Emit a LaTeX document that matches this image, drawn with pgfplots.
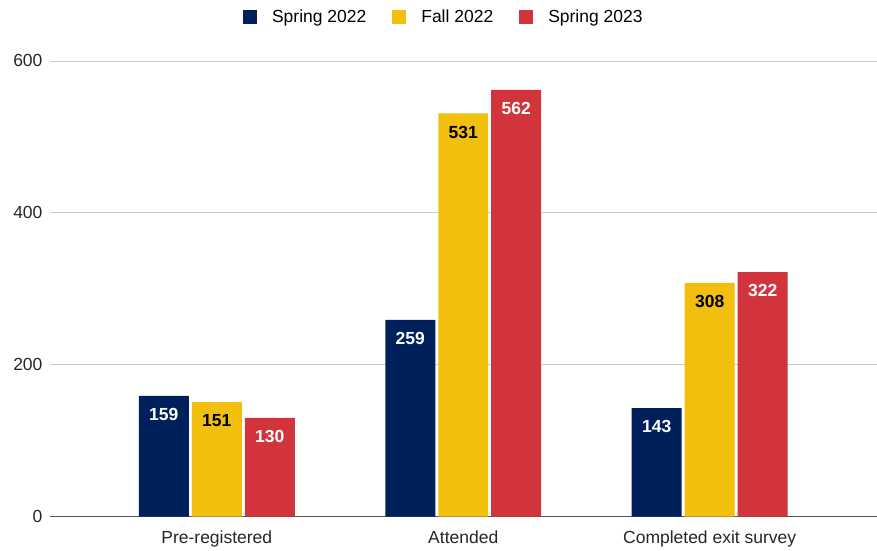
\documentclass[border=0pt]{standalone}
\usepackage{fontspec}
\setmainfont{Liberation Sans}
\usepackage{pgfplots}
\pgfplotsset{compat=1.18}
\usetikzlibrary{calc}
\definecolor{cnavy}{HTML}{00205B}
\definecolor{cyellow}{HTML}{F2BF0F}
\definecolor{cred}{HTML}{D1343B}
\definecolor{cgrid}{HTML}{CCCCCC}
\definecolor{caxis}{HTML}{555555}
\begin{document}
\begin{tikzpicture}
\begin{axis}[
  name=ax,
  scale only axis,
  width=827pt, height=456pt,
  xmin=-0.677, xmax=2.677,
  ymin=0, ymax=600,
  ybar=3pt, bar width=50pt,
  xtick={0,1,2},
  xticklabels={Pre-registered, Attended, Completed exit survey},
  ytick={0,200,400,600},
  ymajorgrids, grid style={cgrid, line width=0.8pt},
  axis lines*=left,
  y axis line style={draw=none},
  x axis line style={draw=caxis, line width=1pt},
  major tick length=0pt,
  tick style={draw=none},
  /pgf/number format/assume math mode=true,
  ticklabel style={font=\fontsize{17.5}{21}\selectfont, text=black!85},
  xticklabel style={yshift=-11pt},
  yticklabel style={xshift=-4pt},
  nodes near coords,
  every node near coord/.append style={anchor=north, yshift=-9pt, font=\bfseries\fontsize{17.5}{21}\selectfont},
  legend columns=3,
  legend style={draw=none, at={(0.4765,1.096)}, anchor=center, font=\fontsize{17.5}{21}\selectfont,
    /tikz/every odd column/.append style={column sep=13pt},
    /tikz/every even column/.append style={column sep=24pt}},
  legend image code/.code={\fill[#1] (0pt,-7pt) rectangle (14pt,7pt);},
  legend cell align=left,
]
\addplot[fill=cnavy, draw=none, every node near coord/.append style={text=white}] coordinates {(0,159) (1,259) (2,143)};
\addplot[fill=cyellow, draw=none, every node near coord/.append style={text=black}] coordinates {(0,151) (1,531) (2,308)};
\addplot[fill=cred, draw=none, every node near coord/.append style={text=white}] coordinates {(0,130) (1,562) (2,322)};
\legend{Spring 2022, Fall 2022, Spring 2023}
\end{axis}
\path[use as bounding box] ($(ax.south west)+(-50pt,-31pt)$) rectangle ($(ax.north east)+(0pt,61pt)$);
\end{tikzpicture}
\end{document}
